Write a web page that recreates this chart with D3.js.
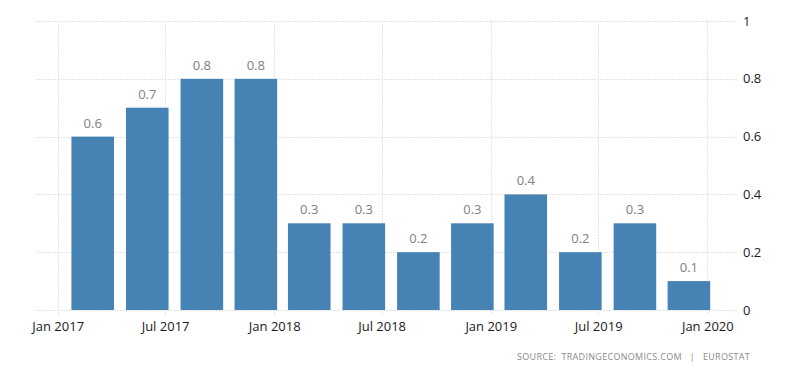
<!DOCTYPE html>
<html>
<head>
<meta charset="utf-8">
<script src="https://cdn.jsdelivr.net/npm/d3@7"></script>
<style>
  body { margin: 0; background: #fff; }
  svg { display: block; font-family: "Open Sans", sans-serif; }
</style>
</head>
<body>
<div id="chart"></div>
<script>
// data ---------------------------------------------------------------------------------------------
const periods = ['2017-03-01', '2017-06-01', '2017-09-01', '2017-12-01',
                 '2018-03-01', '2018-06-01', '2018-09-01', '2018-12-01',
                 '2019-03-01', '2019-06-01', '2019-09-01', '2019-12-01'];
const values = [0.6, 0.7, 0.8, 0.8, 0.3, 0.3, 0.2, 0.3, 0.4, 0.2, 0.3, 0.1];
const xTicks = ['2017-01-01', '2017-07-01', '2018-01-01', '2018-07-01', '2019-01-01', '2019-07-01', '2020-01-01'];
const yTicks = [0, 0.2, 0.4, 0.6, 0.8, 1];

const parse = d3.timeParse('%Y-%m-%d');
const data = periods.map((p, i) => ({ date: parse(p), value: values[i] }));

// chart --------------------------------------------------------------------------------------------
const width = 800;
const height = 373;
const plot = { left: 36, right: 737, top: 21, bottom: 310 };

const svg = d3.select('#chart')
    .append('svg')
    .attr('width', width)
    .attr('height', height);

// time scale pinned to the tick positions
const xScale = d3.scaleTime()
    .domain([parse('2017-01-01'), parse('2020-01-01')])
    .range([57.7, 707.3]);

const yScale = d3.scaleLinear()
    .domain([0, 1])
    .range([plot.bottom, plot.top]);

const barWidth = (xScale(parse('2017-06-01')) - xScale(parse('2017-03-01'))) * 0.78;

// horizontal gridlines
svg.append('g')
    .selectAll('line')
    .data(yTicks)
    .join('line')
    .attr('x1', plot.left)
    .attr('x2', plot.right)
    .attr('y1', d => Math.round(yScale(d)) + 0.5)
    .attr('y2', d => Math.round(yScale(d)) + 0.5)
    .attr('stroke', '#e3e3e3')
    .attr('stroke-dasharray', '2,1');

// vertical gridlines
svg.append('g')
    .selectAll('line')
    .data(xTicks.map(parse))
    .join('line')
    .attr('x1', d => Math.round(xScale(d)) + 0.5)
    .attr('x2', d => Math.round(xScale(d)) + 0.5)
    .attr('y1', plot.top)
    .attr('y2', plot.bottom + 4)
    .attr('stroke', '#e3e3e3')
    .attr('stroke-dasharray', '2,1');

// bars
svg.append('g')
    .selectAll('rect')
    .data(data)
    .join('rect')
    .attr('x', d => xScale(d.date) - barWidth / 2)
    .attr('y', d => yScale(d.value))
    .attr('width', barWidth)
    .attr('height', d => yScale(0) - yScale(d.value))
    .attr('fill', '#4682b4');

// value labels
svg.append('g')
    .selectAll('text')
    .data(data)
    .join('text')
    .attr('x', d => xScale(d.date))
    .attr('y', d => yScale(d.value) - 9)
    .attr('text-anchor', 'middle')
    .attr('font-size', '13px')
    .attr('fill', '#808080')
    .text(d => d3.format('.1f')(d.value));

// x axis
const xAxis = svg.append('g')
    .attr('transform', `translate(0,${plot.bottom})`)
    .call(d3.axisBottom(xScale)
        .tickValues(xTicks.map(parse))
        .tickSize(0)
        .tickPadding(12)
        .tickFormat(d3.timeFormat('%b %Y')));
xAxis.select('.domain').remove();
xAxis.selectAll('text')
    .attr('font-size', '13px')
    .attr('font-family', '"Open Sans", sans-serif')
    .attr('fill', '#1a1a1a');

// y axis on the right
const yAxis = svg.append('g')
    .attr('transform', `translate(${plot.right},0)`)
    .call(d3.axisRight(yScale)
        .tickValues(yTicks)
        .tickSize(0)
        .tickPadding(6)
        .tickFormat(d => d === 0 || d === 1 ? d3.format('d')(d) : d3.format('.1f')(d)));
yAxis.select('.domain').remove();
yAxis.selectAll('text')
    .attr('font-size', '13px')
    .attr('font-family', '"Open Sans", sans-serif')
    .attr('fill', '#1a1a1a');

// source
svg.append('text')
    .attr('x', 750)
    .attr('y', 360)
    .attr('text-anchor', 'end')
    .attr('font-size', '9px')
    .attr('letter-spacing', '0.3px')
    .attr('fill', '#8a8a8a')
    .style('white-space', 'pre')
    .text('SOURCE:  TRADINGECONOMICS.COM   |   EUROSTAT');
</script>
</body>
</html>
